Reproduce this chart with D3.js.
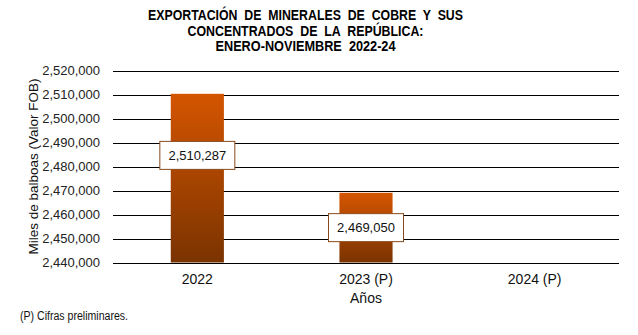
<!DOCTYPE html>
<html><head><meta charset="utf-8">
<script src="https://cdn.jsdelivr.net/npm/d3@7/dist/d3.min.js"></script>
<style>body{margin:0;background:#fff}svg{display:block}</style>
</head><body>
<script>
const categories = ["2022", "2023 (P)", "2024 (P)"];
const values = [2510287, 2469050, null];
const yTicks = [2440000, 2450000, 2460000, 2470000, 2480000, 2490000, 2500000, 2510000, 2520000];
const titleLines = ["EXPORTACIÓN  DE  MINERALES  DE  COBRE  Y  SUS", "CONCENTRADOS  DE  LA  REPÚBLICA:", "ENERO-NOVIEMBRE  2022-24"];
const yTitle = "Miles de balboas (Valor FOB)";
const xTitle = "Años";
const footnote = "(P) Cifras preliminares.";

const W = 638, H = 335;
const m = {left: 113, right: 19, top: 70.5, bottom: 72.5};
const svg = d3.select("body").append("svg").attr("width", W).attr("height", H);

const x = d3.scaleBand().domain(categories).range([m.left, W - m.right]).paddingInner(0.685).paddingOuter(0.3425);
const y = d3.scaleLinear().domain([2440000, 2520000]).range([H - m.bottom, m.top]);

const defs = svg.append("defs");
const grad = defs.append("linearGradient").attr("id", "bg").attr("x1", 0).attr("y1", 0).attr("x2", 0).attr("y2", 1);
grad.append("stop").attr("offset", "0%").attr("stop-color", "#d45500");
grad.append("stop").attr("offset", "100%").attr("stop-color", "#7a3300");

// gridlines
svg.append("g").selectAll("line").data(yTicks).join("line")
  .attr("x1", m.left).attr("x2", W - m.right)
  .attr("y1", d => Math.round(y(d)) + 0.5).attr("y2", d => Math.round(y(d)) + 0.5)
  .attr("stroke", "#000").attr("stroke-width", 1);

// y axis labels
const yAxis = svg.append("g").attr("transform", `translate(${m.left},0)`)
  .call(d3.axisLeft(y).tickValues(yTicks).tickFormat(d3.format(",")).tickSize(0).tickPadding(13));
yAxis.select(".domain").remove();
yAxis.selectAll("text").attr("font-family", "Liberation Sans, Arial, sans-serif").attr("font-size", 13).attr("fill", "#222");

// bars
const bw = x.bandwidth();
svg.append("g").selectAll("rect").data(categories.map((c, i) => ({c, v: values[i]})).filter(d => d.v != null)).join("rect")
  .attr("x", d => x(d.c)).attr("width", bw)
  .attr("y", d => y(d.v)).attr("height", d => y.range()[0] - y(d.v))
  .attr("fill", "url(#bg)");

// x axis labels
const xAxis = svg.append("g").attr("transform", `translate(0,${H - m.bottom})`)
  .call(d3.axisBottom(x).tickSize(0).tickPadding(12));
xAxis.select(".domain").remove();
xAxis.selectAll("text").attr("font-family", "Liberation Sans, Arial, sans-serif").attr("font-size", 14).attr("fill", "#111");

// data labels (box placement relative to bar)
const labelFrac = [0.365, 0.5];
const lab = svg.append("g").selectAll("g").data(categories.map((c, i) => ({c, v: values[i], i})).filter(d => d.v != null)).join("g")
  .attr("transform", d => {
    const top = y(d.v), bot = y.range()[0];
    return `translate(${x(d.c) + bw / 2},${top + (bot - top) * labelFrac[d.i]})`;
  });
lab.append("rect").attr("x", -37.5).attr("y", -14).attr("width", 75).attr("height", 28)
  .attr("fill", "#fff").attr("stroke", "#8a4a1c").attr("stroke-width", 1);
lab.append("text").attr("text-anchor", "middle").attr("dy", "0.36em")
  .attr("font-family", "Liberation Sans, Arial, sans-serif").attr("font-size", 13).attr("fill", "#111")
  .text(d => d3.format(",")(d.v));

// title (condensed to match narrow typeface)
const titleWidths = [315, 236, 180];
svg.append("g").selectAll("text").data(titleLines).join("text")
  .attr("x", 305.5).attr("y", (d, i) => 20 + i * 15.5)
  .attr("text-anchor", "middle").attr("font-family", "Liberation Sans, Arial, sans-serif")
  .attr("font-weight", "bold").attr("font-size", 14).attr("fill", "#000")
  .attr("textLength", (d, i) => titleWidths[i]).attr("lengthAdjust", "spacingAndGlyphs")
  .style("white-space", "pre").text(d => d);

// axis titles
svg.append("text").attr("transform", `translate(38,${(m.top + H - m.bottom) / 2}) rotate(-90)`)
  .attr("text-anchor", "middle").attr("font-family", "Liberation Sans, Arial, sans-serif").attr("font-size", 13.5).attr("fill", "#111")
  .text(yTitle);
svg.append("text").attr("x", x("2023 (P)") + bw / 2).attr("y", 303)
  .attr("text-anchor", "middle").attr("font-family", "Liberation Sans, Arial, sans-serif").attr("font-size", 14).attr("fill", "#111")
  .text(xTitle);
svg.append("text").attr("x", 20).attr("y", 320)
  .attr("font-family", "Liberation Sans, Arial, sans-serif").attr("font-size", 12).attr("fill", "#111")
  .attr("textLength", 108).attr("lengthAdjust", "spacingAndGlyphs")
  .text(footnote);
</script>
</body></html>
